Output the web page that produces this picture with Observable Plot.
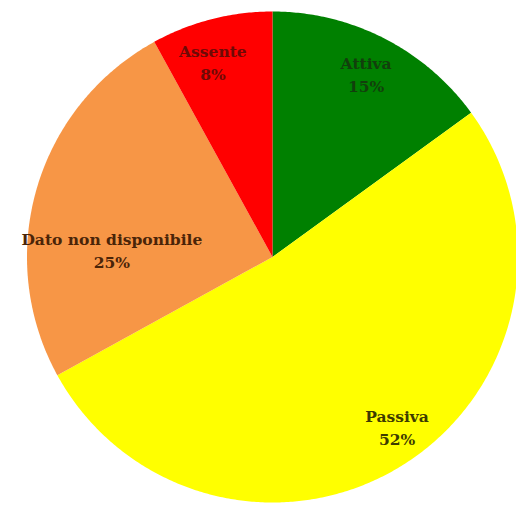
<!DOCTYPE html>
<html>
<head>
<meta charset="utf-8">
<script src="https://cdn.jsdelivr.net/npm/d3@7"></script>
<script src="https://cdn.jsdelivr.net/npm/@observablehq/plot@0.6"></script>
<style>
  html, body { margin: 0; padding: 0; background: #fff; }
  #chart svg { display: block; }
</style>
</head>
<body>
<div id="chart"></div>
<script>
// ---- data ----
const categories = ["Attiva", "Passiva", "Dato non disponibile", "Assente"];
const values = [15, 52, 25, 8];
const sliceColors = ["#008000", "#FFFF00", "#F79646", "#FF0000"];
const labelColors = ["#123f0c", "#3d3b00", "#4a2408", "#6e0a06"];

// ---- layout (not data) ----
const W = 516, H = 505;
const CX = 272, CY = 256.5, R = 245.5;
// label placement per slice: [angle offset from slice middle (deg), radius fraction]
const labelPlacement = {
  "Attiva": [0, 0.84],
  "Passiva": [-4, 0.855],
  "Dato non disponibile": [-13.5, 0.655],
  "Assente": [-2.5, 0.835]
};

const total = d3.sum(values);
let acc = 0;
const slices = categories.map((c, i) => {
  const a0 = acc / total * 360;
  acc += values[i];
  const a1 = acc / total * 360;
  return {category: c, value: values[i], a0, a1, color: sliceColors[i], labelColor: labelColors[i]};
});

const pt = (deg, r) => {
  const t = deg * Math.PI / 180;
  return [r * Math.sin(t), -r * Math.cos(t)];
};

const features = slices.map(s => {
  const coords = [[0, 0]];
  const n = Math.max(2, Math.ceil((s.a1 - s.a0) / 0.5));
  for (let k = 0; k <= n; k++) coords.push(pt(s.a0 + (s.a1 - s.a0) * k / n, 1));
  coords.push([0, 0]);
  return {type: "Feature", properties: s, geometry: {type: "Polygon", coordinates: [coords]}};
});

const labels = slices.map(s => {
  const [off, rf] = labelPlacement[s.category];
  const [x, y] = pt((s.a0 + s.a1) / 2 + off, rf);
  return {x, y, text: `${s.category}\n${s.value}%`, color: s.labelColor};
});

// frame of the picture in unit-circle coordinates
const frame = {type: "MultiPoint", coordinates: [
  [(0 - CX) / R, (0 - CY) / R],
  [(W - CX) / R, (H - CY) / R]
]};

const chart = Plot.plot({
  width: W,
  height: H,
  margin: 0,
  style: {background: "#fff"},
  projection: {type: "identity", domain: frame, inset: 0},
  color: {type: "identity"},
  marks: [
    Plot.geo(features, {fill: d => d.properties.color, stroke: "none"}),
    Plot.text(labels, {
      x: "x", y: "y", text: "text", fill: "color",
      fontFamily: "DejaVu Serif", fontWeight: "bold", fontSize: 15.5,
      lineHeight: 1.5, lineAnchor: "middle", textAnchor: "middle"
    })
  ]
});
document.getElementById("chart").appendChild(chart);
</script>
</body>
</html>
